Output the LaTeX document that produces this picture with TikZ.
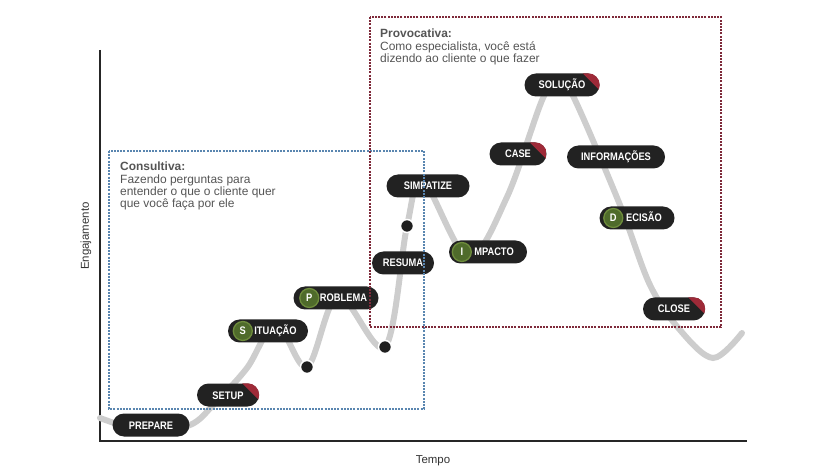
\documentclass[tikz,border=0pt]{standalone}
\usepackage{fontspec}
\setmainfont{Liberation Sans}
\newfontfamily\stagefont[FakeStretch=0.85]{Liberation Sans}
\definecolor{stagebg}{HTML}{222222}
\definecolor{cornerred}{HTML}{9E2A38}
\definecolor{leaf}{HTML}{4F6B2B}
\definecolor{leafring}{HTML}{6E8C3C}
\definecolor{curvegray}{HTML}{CDCDCD}
\definecolor{zoneblue}{HTML}{5A86B0}
\definecolor{zonered}{HTML}{7E2A3A}
\definecolor{notegray}{HTML}{555555}
\newcommand{\redcorner}[1]{%
  \begin{scope}
    \clip[rounded corners=11.5bp] (#1.south west) rectangle (#1.north east);
    \fill[cornerred] ([xshift=-17bp]#1.north east) -- (#1.north east) -- ([yshift=-17bp]#1.north east) -- cycle;
  \end{scope}}
\begin{document}
\begin{tikzpicture}[x=1bp,y=-1bp,
  stage/.style={fill=stagebg,text=white,rounded corners=11.5bp,minimum height=23bp,inner xsep=4bp,inner ysep=0bp,text height=8bp,text depth=0bp,font=\stagefont\bfseries\fontsize{11}{12}\selectfont},
  letter/.style={circle,fill=leaf,draw=leafring,line width=1.3bp,minimum size=19bp,inner sep=0bp,text=white,font=\stagefont\bfseries\fontsize{11}{12}\selectfont},
  dot/.style={circle,fill=black!88,draw=white,line width=1.5bp,minimum size=13bp,inner sep=0bp},
  curve/.style={draw=curvegray,line width=6bp,line cap=round},
  zone/.style={line width=2.4bp,dash pattern=on 2bp off 1.2bp},
  note/.style={anchor=north west,align=left,inner sep=0bp,text=notegray,font=\fontsize{12}{12.3}\selectfont},
  axislabel/.style={text=black!80,font=\fontsize{11.5}{13}\selectfont}]
  \useasboundingbox (0,0) rectangle (821,472);
  \coordinate (ytop) at (100,50);
  \coordinate (origin) at (100,441);
  \coordinate (xend) at (747,441);
  \draw[line width=1.1bp,black!85] (ytop) -- (origin) -- (xend);
  \node[axislabel,rotate=90] (engajamento) at (86,236) {Engajamento};
  \node[axislabel] (tempo) at (433,461) {Tempo};

  \draw[curve] plot[smooth,tension=0.55] coordinates {(100,418) (145,431) (190,425) (215,403) (247,368) (276,324) (307,367) (338,296) (385,347) (407,226) (423,181) (468,257) (507,197) (543,98) (560,80) (575,100) (620,205) (650,285) (680,330) (713,358) (742,333)};

  \node[stage,minimum width=77bp] (prepare) at (151,425) {PREPARE};
  \node[stage,minimum width=62bp] (setup) at (228,395) {SETUP};
  \node[stage,minimum width=80bp] (situacao) at (268,331) {\hspace*{15bp}ITUAÇÃO};
  \node[letter] (situacao-s) at ([xshift=15bp]situacao.west) {S};
  \node[stage,minimum width=85bp] (problema) at (336,298) {\hspace*{15bp}ROBLEMA};
  \node[letter] (problema-p) at ([xshift=16bp]problema.west) {P};
  \node[stage,minimum width=62bp] (resuma) at (403,263) {RESUMA};
  \node[stage,minimum width=83bp] (simpatize) at (428,186) {SIMPATIZE};
  \node[stage,minimum width=78bp] (impacto) at (488,252) {\hspace*{12bp}MPACTO};
  \node[letter] (impacto-i) at ([xshift=13bp]impacto.west) {I};
  \node[stage,minimum width=57bp] (case) at (518,154) {CASE};
  \node[stage,minimum width=75bp] (solucao) at (562,85) {SOLUÇÃO};
  \node[stage,minimum width=98bp] (informacoes) at (616,157) {INFORMAÇÕES};
  \node[stage,minimum width=75bp] (decisao) at (637,218) {\hspace*{14bp}ECISÃO};
  \node[letter] (decisao-d) at ([xshift=14bp]decisao.west) {D};
  \node[stage,minimum width=62bp] (close) at (674,309) {CLOSE};
  \redcorner{setup}
  \redcorner{case}
  \redcorner{solucao}
  \redcorner{close}

  \node[dot] (dip1) at (307,367) {};
  \node[dot] (dip2) at (385,347) {};
  \node[dot] (rise) at (407,226) {};

  \draw[zone,draw=zoneblue] (109,151) rectangle (424,409);
  \draw[zone,draw=zonered] (370,17) rectangle (721,327);
  \node[note] (consultiva) at (120,162) {\textbf{Consultiva:}\\Fazendo perguntas para\\entender o que o cliente quer\\que você faça por ele};
  \node[note] (provocativa) at (380,29) {\textbf{Provocativa:}\\Como especialista, você está\\dizendo ao cliente o que fazer};
\end{tikzpicture}
\end{document}
